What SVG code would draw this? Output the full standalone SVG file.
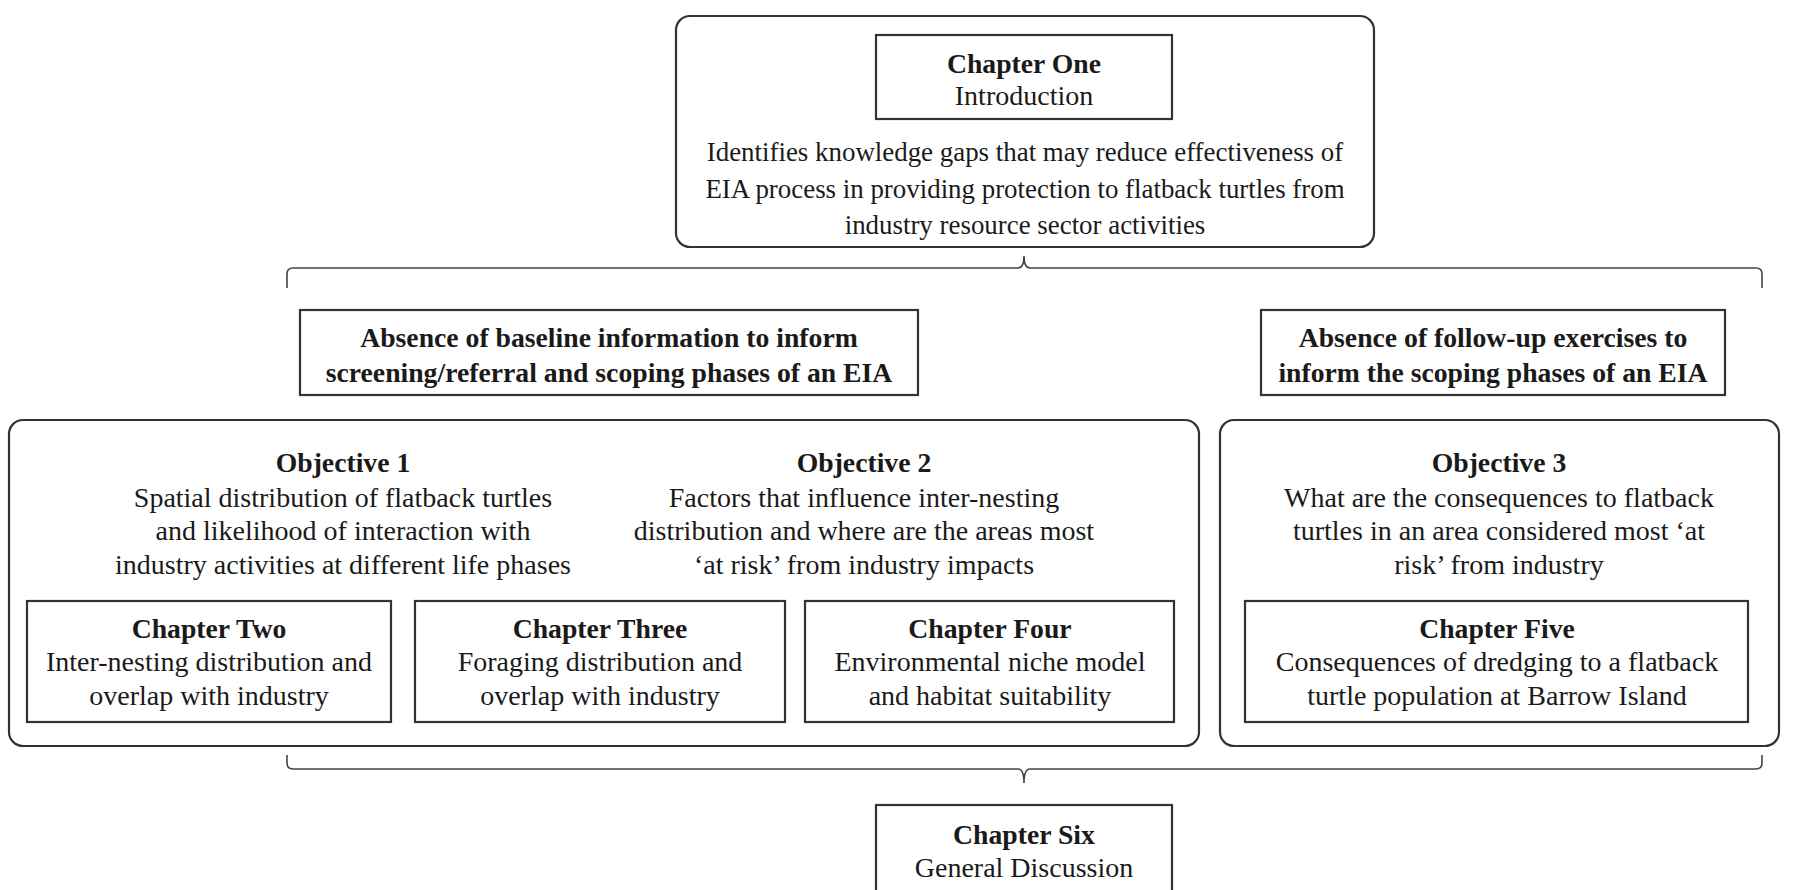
<svg xmlns="http://www.w3.org/2000/svg" width="1794" height="890" viewBox="0 0 1794 890">
<style>
.bg{fill:#ffffff}
.rbox{fill:none;stroke:#333;stroke-width:2.2}
.box{fill:#fff;stroke:#333;stroke-width:2.2}
.t{font-family:"Liberation Serif","Times New Roman",serif;font-size:28px;fill:#1a1a1a;text-anchor:middle}
.p{font-size:26.9px}
.b{font-weight:bold;font-size:27.7px}
.brace{fill:none;stroke:#444;stroke-width:1.6}
</style>
<rect class="bg" x="0" y="0" width="1794" height="890"/>

<g id="connectors">
  <path class="brace" d="M287,288 L287,274 Q287,268 293,268 L1018,268 Q1024,268 1024,256 Q1024,268 1030,268 L1756,268 Q1762,268 1762,274 L1762,288"/>
  <path class="brace" d="M287,755 L287,763 Q287,769 293,769 L1018,769 Q1024,769 1024,783 Q1024,769 1030,769 L1756,769 Q1762,769 1762,763 L1762,755"/>
</g>

<g id="intro">
  <rect class="rbox" x="676" y="16" width="698" height="231" rx="14"/>
  <g id="chapter-one">
    <rect class="box" x="876" y="35" width="296" height="84"/>
    <text class="t b" x="1024" y="73">Chapter One</text>
    <text class="t" x="1024" y="105">Introduction</text>
  </g>
  <text class="t p" x="1025" y="161">Identifies knowledge gaps that may reduce effectiveness of</text>
  <text class="t p" x="1025" y="198">EIA process in providing protection to flatback turtles from</text>
  <text class="t p" x="1025" y="234">industry resource sector activities</text>
</g>

<g id="gap-baseline">
  <rect class="box" x="300" y="310" width="618" height="85"/>
  <text class="t b" x="609" y="347">Absence of baseline information to inform</text>
  <text class="t b" x="609" y="382">screening/referral and scoping phases of an EIA</text>
</g>

<g id="gap-followup">
  <rect class="box" x="1261" y="310" width="464" height="85"/>
  <text class="t b" x="1493" y="347">Absence of follow-up exercises to</text>
  <text class="t b" x="1493" y="382">inform the scoping phases of an EIA</text>
</g>

<g id="objectives-1-2">
  <rect class="rbox" x="9" y="420" width="1190" height="326" rx="14"/>
  <g id="objective-1">
    <text class="t b" x="343" y="472">Objective 1</text>
    <text class="t" x="343" y="507">Spatial distribution of flatback turtles</text>
    <text class="t" x="343" y="540">and likelihood of interaction with</text>
    <text class="t" x="343" y="574">industry activities at different life phases</text>
  </g>
  <g id="objective-2">
    <text class="t b" x="864" y="472">Objective 2</text>
    <text class="t" x="864" y="507">Factors that influence inter-nesting</text>
    <text class="t" x="864" y="540">distribution and where are the areas most</text>
    <text class="t" x="864" y="574">‘at risk’ from industry impacts</text>
  </g>
  <g id="chapter-two">
    <rect class="box" x="27" y="601" width="364" height="121"/>
    <text class="t b" x="209" y="638">Chapter Two</text>
    <text class="t" x="209" y="671">Inter-nesting distribution and</text>
    <text class="t" x="209" y="705">overlap with industry</text>
  </g>
  <g id="chapter-three">
    <rect class="box" x="415" y="601" width="370" height="121"/>
    <text class="t b" x="600" y="638">Chapter Three</text>
    <text class="t" x="600" y="671">Foraging distribution and</text>
    <text class="t" x="600" y="705">overlap with industry</text>
  </g>
  <g id="chapter-four">
    <rect class="box" x="805" y="601" width="369" height="121"/>
    <text class="t b" x="990" y="638">Chapter Four</text>
    <text class="t" x="990" y="671">Environmental niche model</text>
    <text class="t" x="990" y="705">and habitat suitability</text>
  </g>
</g>

<g id="objective-3-group">
  <rect class="rbox" x="1220" y="420" width="559" height="326" rx="14"/>
  <g id="objective-3">
    <text class="t b" x="1499" y="472">Objective 3</text>
    <text class="t" x="1499" y="507">What are the consequences to flatback</text>
    <text class="t" x="1499" y="540">turtles in an area considered most ‘at</text>
    <text class="t" x="1499" y="574">risk’ from industry</text>
  </g>
  <g id="chapter-five">
    <rect class="box" x="1245" y="601" width="503" height="121"/>
    <text class="t b" x="1497" y="638">Chapter Five</text>
    <text class="t" x="1497" y="671">Consequences of dredging to a flatback</text>
    <text class="t" x="1497" y="705">turtle population at Barrow Island</text>
  </g>
</g>

<g id="chapter-six">
  <rect class="box" x="876" y="805" width="296" height="90"/>
  <text class="t b" x="1024" y="844">Chapter Six</text>
  <text class="t" x="1024" y="877">General Discussion</text>
</g>
</svg>
